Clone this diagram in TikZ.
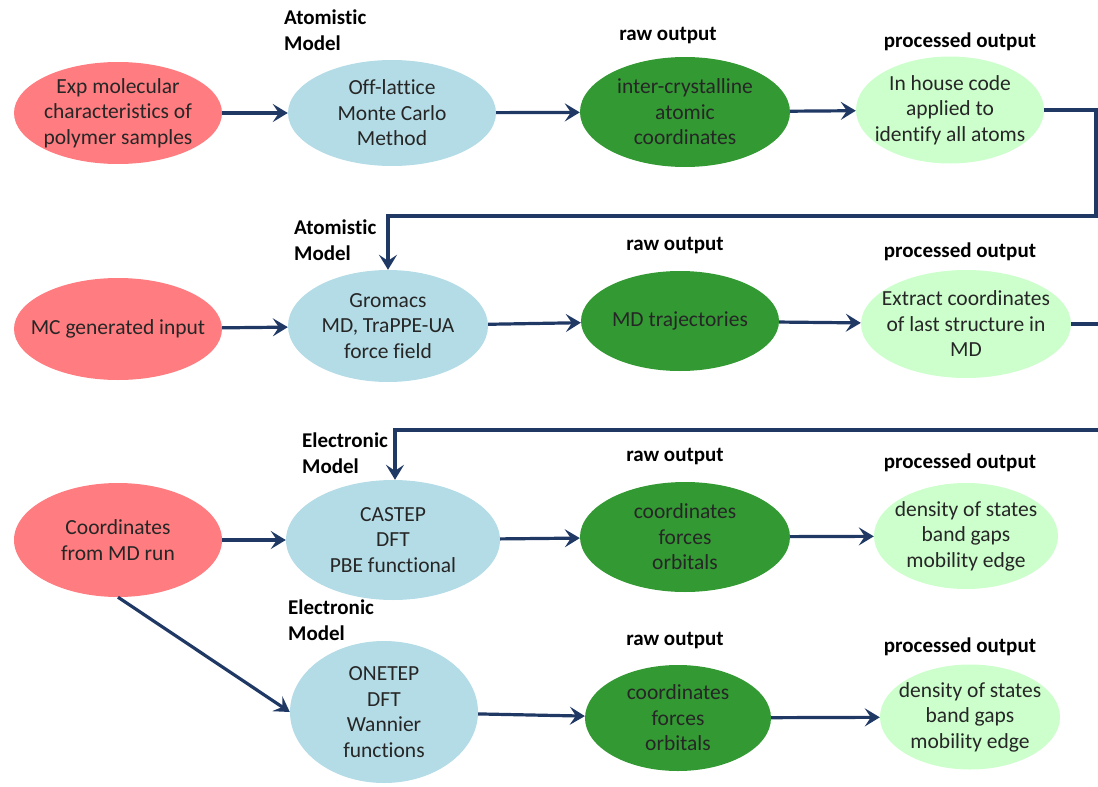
\documentclass[tikz,border=0pt]{standalone}
\usepackage{fontspec}
\setmainfont{Carlito}[Ligatures=NoCommon]
\usepackage{xcolor}
\usetikzlibrary{shapes, arrows.meta, positioning}
\definecolor{salmon}{RGB}{255,124,128}
\definecolor{paleblue}{RGB}{180,220,230}
\definecolor{darkgreen}{RGB}{51,153,51}
\definecolor{palegreen}{RGB}{204,255,204}
\definecolor{navy}{RGB}{31,56,100}
\newcommand{\bodyfont}{\fontsize{21.5}{25.5}\selectfont}
\newcommand{\headfont}{\fontsize{21}{26}\selectfont\bfseries}

\begin{document}
\begin{tikzpicture}
  [
    x=1pt, y=-1pt,
    Oval/.style={ellipse, inner xsep=-14pt, inner ysep=-8pt, align=center, font=\bodyfont, text=black!85},
    Red/.style={Oval, fill=salmon},
    Blue/.style={Oval, fill=paleblue},
    Dark/.style={Oval, fill=darkgreen},
    Pale/.style={Oval, fill=palegreen},
    Head/.style={anchor=north west, align=left, inner sep=0pt, font=\headfont},
    Out/.style={inner sep=0pt, font=\headfont},
    Link/.style={draw=navy, line width=3.2pt, -{Stealth[length=15pt, width=18pt, inset=6pt]}}
  ]
  \clip (0,0) rectangle (1098,787);

  % Nodes
  \node[Red, minimum width=208pt, minimum height=102pt] (r1) at(118, 113) {Exp molecular\\characteristics of\\polymer samples};
  \node[Blue, minimum width=208pt, minimum height=106pt] (b1) at(392, 113) {Off-lattice\\Monte Carlo\\Method};
  \node[Dark, minimum width=210pt, minimum height=110pt] (d1) at(685, 112) {inter-crystalline\\atomic\\coordinates};
  \node[Pale, minimum width=188pt, minimum height=107pt] (p1) at(950, 110) {In house code\\applied to\\identify all atoms};

  \node[Red, minimum width=208pt, minimum height=102pt] (r2) at(118, 329) {MC generated input};
  \node[Blue, minimum width=200pt, minimum height=112pt] (b2) at(388, 326) {Gromacs\\MD, TraPPE-UA\\force field};
  \node[Dark, minimum width=198pt, minimum height=100pt] (d2) at(680, 321) {MD trajectories};
  \node[Pale, minimum width=210pt, minimum height=108pt] (p2) at(966, 324) {Extract coordinates\\of last structure in\\MD};

  \node[Red, minimum width=208pt, minimum height=114pt] (r3) at(118, 540) {Coordinates\\from MD run};
  \node[Blue, minimum width=214pt, minimum height=120pt] (b3) at(393, 540) {CASTEP\\DFT\\PBE functional};
  \node[Dark, minimum width=210pt, minimum height=110pt] (d3) at(685, 537) {coordinates\\forces\\orbitals};
  \node[Pale, minimum width=184pt, minimum height=106pt] (p3) at(966, 536) {density of states\\band gaps\\mobility edge};

  \node[Blue, minimum width=188pt, minimum height=142pt] (b4) at(384, 712) {ONETEP\\DFT\\Wannier\\functions};
  \node[Dark, minimum width=186pt, minimum height=106pt] (d4) at(678, 718) {coordinates\\forces\\orbitals};
  \node[Pale, minimum width=180pt, minimum height=105pt] (p4) at(970, 717) {density of states\\band gaps\\mobility edge};

  % Labels
  \node[Head] (h1) at(284, 10) {Atomistic\\Model};
  \node[Head] (h2) at(294, 220) {Atomistic\\Model};
  \node[Head] (h3) at(302, 433) {Electronic\\Model};
  \node[Head] (h4) at(288, 600) {Electronic\\Model};
  \node[Out] (o1) at(668, 36) {raw output};
  \node[Out] (o2) at(675, 246) {raw output};
  \node[Out] (o3) at(675, 457) {raw output};
  \node[Out] (o4) at(675, 641) {raw output};
  \node[Out] (q1) at(960, 42) {processed output};
  \node[Out] (q2) at(960, 252) {processed output};
  \node[Out] (q3) at(960, 463) {processed output};
  \node[Out] (q4) at(960, 647) {processed output};

  \coordinate (t1) at(1096, 216);
  \coordinate (t2) at(1106, 430);

  % Lines
  \path [Link] (r1) -- (b1);
  \path [Link] (b1) -- (d1);
  \path [Link] (d1) -- (p1);
  \path [Link] (p1.east) -| (t1) -| (b2.north);
  \path [Link] (r2) -- (b2);
  \path [Link] (b2) -- (d2);
  \path [Link] (d2) -- (p2);
  \path [Link] (p2.east) -| (t2) -| ([xshift=2pt]b3.north);
  \path [Link] (r3) -- (b3);
  \path [Link] (b3) -- (d3);
  \path [Link] (d3) -- (p3);
  \path [Link] (r3.south) -- (b4.west);
  \path [Link] (b4) -- (d4);
  \path [Link] (d4) -- (p4);

\end{tikzpicture}
\end{document}
